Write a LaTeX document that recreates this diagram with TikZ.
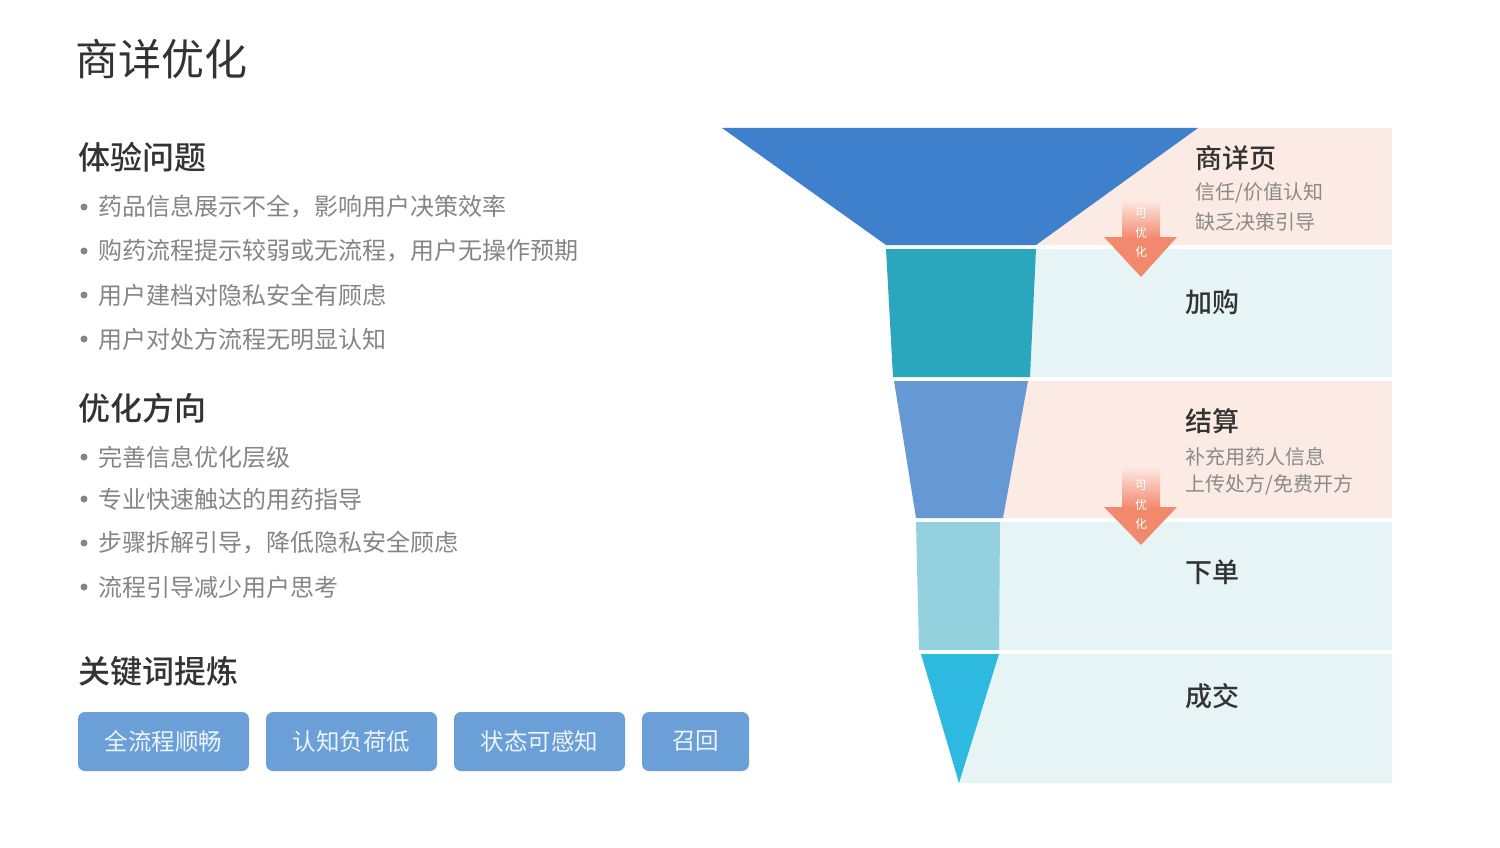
\documentclass[tikz,border=0pt]{standalone}
\usepackage{fontspec}
\setmainfont{Noto Sans CJK SC}[BoldFont={Noto Sans CJK SC Medium}]
\usetikzlibrary{calc}
\definecolor{headc}{HTML}{333333}
\definecolor{itemc}{HTML}{858585}
\definecolor{subc}{HTML}{8A8A8A}
\definecolor{btnc}{HTML}{6A9FD8}
\definecolor{btntext}{HTML}{EEF4FB}
\definecolor{bandpink}{HTML}{FCEAE4}
\definecolor{bandcyan}{HTML}{E6F4F6}
\definecolor{segA}{HTML}{3F80CC}
\definecolor{segB}{HTML}{2AA7BC}
\definecolor{segC}{HTML}{6699D4}
\definecolor{segD}{HTML}{93D1DE}
\definecolor{segE}{HTML}{2EB9E0}
\definecolor{salmon}{HTML}{F3896C}
\begin{document}
\begin{tikzpicture}[x=1pt,y=-1pt,
  titlestyle/.style={anchor=west, inner sep=0pt, text=headc, font=\fontsize{43}{48}\selectfont},
  heading/.style={anchor=west, inner sep=0pt, text=headc, font=\fontsize{32}{36}\selectfont\bfseries},
  item/.style={anchor=west, inner sep=0pt, text=itemc, font=\fontsize{24}{28}\selectfont},
  dotmark/.style={circle, fill=itemc, minimum size=7pt, inner sep=0pt},
  btn/.style={rounded corners=7pt, fill=btnc, text=btntext, minimum height=59pt, inner sep=0pt, font=\fontsize{23.5}{27}\selectfont},
  stage/.style={anchor=west, inner sep=0pt, text=headc, font=\fontsize{27}{30}\selectfont\bfseries},
  stagesub/.style={anchor=west, inner sep=0pt, text=subc, font=\fontsize{20}{23}\selectfont},
  optlabel/.style={inner sep=0pt, text=white, align=center, font=\fontsize{12}{19.5}\selectfont},
  shaft/.style={top color=bandpink, bottom color=salmon, draw=none},
  arrowhead/.style={fill=salmon, draw=none}
]
\useasboundingbox (0,0) rectangle (1500,848);
\fill[white] (0,0) rectangle (1500,848);

% ---------- left column ----------
\node[titlestyle] (title) at (75,59) {商详优化};

\node[heading] (h1) at (78,157) {体验问题};
\node[dotmark] (d11) at (84,207) {};
\node[item] (i11) at (98,207) {药品信息展示不全，影响用户决策效率};
\node[dotmark] (d12) at (84,251) {};
\node[item] (i12) at (98,251) {购药流程提示较弱或无流程，用户无操作预期};
\node[dotmark] (d13) at (84,295) {};
\node[item] (i13) at (98,295) {用户建档对隐私安全有顾虑};
\node[dotmark] (d14) at (84,339) {};
\node[item] (i14) at (98,339) {用户对处方流程无明显认知};

\node[heading] (h2) at (78,408) {优化方向};
\node[dotmark] (d21) at (84,457) {};
\node[item] (i21) at (98,457) {完善信息优化层级};
\node[dotmark] (d22) at (84,499) {};
\node[item] (i22) at (98,499) {专业快速触达的用药指导};
\node[dotmark] (d23) at (84,543) {};
\node[item] (i23) at (98,543) {步骤拆解引导，降低隐私安全顾虑};
\node[dotmark] (d24) at (84,587) {};
\node[item] (i24) at (98,587) {流程引导减少用户思考};

\node[heading] (h3) at (78,671) {关键词提炼};
\node[btn, minimum width=171pt] (k1) at (163.5,741.5) {全流程顺畅};
\node[btn, minimum width=171pt] (k2) at (351.5,741.5) {认知负荷低};
\node[btn, minimum width=171pt] (k3) at (539.5,741.5) {状态可感知};
\node[btn, minimum width=107pt] (k4) at (695.5,741.5) {召回};

% ---------- bands ----------
\fill[bandpink] (1030,128) rectangle (1392,245);
\fill[bandcyan] (1025,249) rectangle (1392,377);
\fill[bandpink] (1000,381) rectangle (1392,518);
\fill[bandcyan] (995,522) rectangle (1392,650);
\fill[bandcyan] (994,654) -- (1392,654) -- (1392,783) -- (957,783) -- cycle;

% ---------- funnel ----------
\fill[segA] (722,128) -- (1198,128) -- (1036,245) -- (886,245) -- cycle;
\fill[segB] (886,249) -- (1036,249) -- (1030,377) -- (893,377) -- cycle;
\fill[segC] (894,381) -- (1028,381) -- (1003,518) -- (916,518) -- cycle;
\fill[segD] (916,522) -- (1000,522) -- (999,650) -- (919,650) -- cycle;
\fill[segE] (921,654) -- (999,654) -- (959,783) -- cycle;

% ---------- stage labels ----------
\node[stage] (s1) at (1195,158) {商详页};
\node[stagesub] (s1a) at (1195,193) {信任/价值认知};
\node[stagesub] (s1b) at (1195,222) {缺乏决策引导};
\node[stage] (s2) at (1185,302) {加购};
\node[stage] (s3) at (1185,421) {结算};
\node[stagesub] (s3a) at (1185,457) {补充用药人信息};
\node[stagesub] (s3b) at (1185,485) {上传处方/免费开方};
\node[stage] (s4) at (1185,572) {下单};
\node[stage] (s5) at (1185,696) {成交};

% ---------- optimisation arrows ----------
\fill[shaft] (1122,200) rectangle (1160,238);
\fill[arrowhead] (1104,237) -- (1177,237) -- (1141,277) -- cycle;
\node[optlabel] (o1) at (1141,233) {可\\优\\化};

\fill[shaft] (1122,467) rectangle (1160,508);
\fill[arrowhead] (1104,507) -- (1177,507) -- (1141,545) -- cycle;
\node[optlabel] (o2) at (1141,505) {可\\优\\化};
\end{tikzpicture}
\end{document}
